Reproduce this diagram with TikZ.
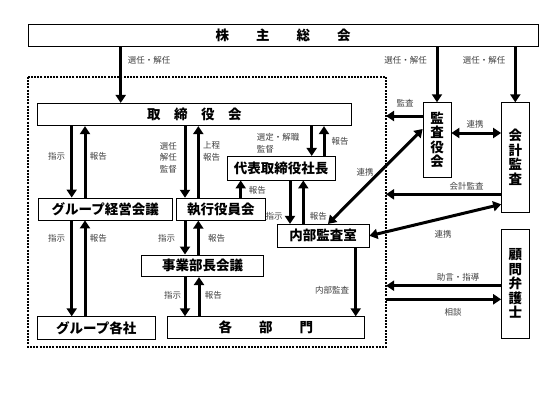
\documentclass[tikz,border=0pt]{standalone}
\usepackage{fontspec}
\setmainfont{Noto Sans CJK JP}
\usepackage{tikz}
\usetikzlibrary{arrows.meta, positioning}
\tikzstyle{box} = [rectangle, draw=black, line width=0.8pt, fill=white, inner sep=0pt, align=center, font=\bfseries\fontsize{13.5}{14.5}\selectfont]
\tikzstyle{lbl} = [inner sep=0pt, align=center, text=black!75, font=\fontsize{8.5}{12}\selectfont]
\tikzstyle{arrow} = [line width=3pt, -{Triangle[length=8pt,width=10pt]}]
\tikzstyle{twoway} = [line width=3pt, {Triangle[length=8pt,width=10pt]}-{Triangle[length=8pt,width=10pt]}]
\tikzstyle{dotline} = [line width=2.4pt, dash pattern=on 2pt off 1.2pt]
\begin{document}
\begin{tikzpicture}[x=1pt, y=-1pt]
  \useasboundingbox (0,0) rectangle (553,415);
  \draw[dotline] (28,76.7) rectangle (386,346.7);

  \node (meeting) [box, minimum width=510pt, minimum height=22.4pt] at (283,35.5) {株　　主　　総　　会};
  \node (board) [box, minimum width=314.7pt, minimum height=22.4pt] at (194.3,114.5) {取　締　役　会};
  \node (auditors) [box, minimum width=28pt, minimum height=74.3pt] at (437,139.8) {監\\査\\役\\会};
  \node (accounting) [box, minimum width=27.5pt, minimum height=109.3pt] at (515.3,157.4) {会\\計\\監\\査};
  \node (lawyer) [box, minimum width=27.5pt, minimum height=109pt] at (515.3,283.5) {顧\\問\\弁\\護\\士};
  \node (president) [box, minimum width=107.7pt, minimum height=23.7pt] at (281.2,168.2) {代表取締役社長};
  \node (groupmtg) [box, minimum width=134.3pt, minimum height=22pt] at (105.2,209) {グループ経営会議};
  \node (execs) [box, minimum width=88.3pt, minimum height=22pt] at (220.8,209.2) {執行役員会};
  \node (internal) [box, minimum width=91.7pt, minimum height=23pt] at (323.2,235.8) {内部監査室};
  \node (divmtg) [box, minimum width=121.7pt, minimum height=21.7pt] at (202.5,265.8) {事業部長会議};
  \node (groupcos) [box, minimum width=117.3pt, minimum height=22.6pt] at (96.3,328) {グループ各社};
  \node (depts) [box, minimum width=196.3pt, minimum height=21.6pt] at (265.8,327.5) {各　　部　　門};

  % free ends on the dotted line
  \coordinate (audit) at (386,116);
  \coordinate (acct) at (386,194.3);
  \coordinate (advice) at (386,285.7);
  \coordinate (consult) at (386,299.3);

  \draw[arrow] (120.7,0 |- meeting.south) -- (120.7,0 |- board.north);
  \draw[arrow] (auditors.north |- meeting.south) -- (auditors.north);
  \draw[arrow] (accounting.north |- meeting.south) -- (accounting.north);
  \node[lbl] at (149,60) {選任・解任};
  \node[lbl] at (405.5,60) {選任・解任};
  \node[lbl] at (484,60) {選任・解任};

  \draw[arrow] (71.7,0 |- board.south) -- (71.7,0 |- groupmtg.north);
  \draw[arrow] (85,0 |- groupmtg.north) -- (85,0 |- board.south);
  \node[lbl] at (56.7,156) {指示};
  \node[lbl] at (98.3,156) {報告};
  \draw[arrow] (185,0 |- board.south) -- (185,0 |- execs.north);
  \draw[arrow] (198.3,0 |- execs.north) -- (198.3,0 |- board.south);
  \node[lbl, font=\fontsize{8.5}{11.5}\selectfont] at (168.3,157.5) {選任\\解任\\監督};
  \node[lbl, font=\fontsize{8.5}{11.5}\selectfont] at (211.7,151.5) {上程\\報告};
  \draw[arrow] (311.7,0 |- board.south) -- (311.7,0 |- president.north);
  \draw[arrow] (324,0 |- president.north) -- (324,0 |- board.south);
  \node[lbl, align=left, anchor=west] at (256.7,143) {選定・解職\\監督};
  \node[lbl] at (340,141.7) {報告};
  \draw[arrow] (240.7,0 |- execs.north) -- (240.7,0 |- president.south);
  \node[lbl] at (257.3,190) {報告};
  \draw[arrow] (290,0 |- president.south) -- (290,0 |- internal.north);
  \draw[arrow] (303.3,0 |- internal.north) -- (303.3,0 |- president.south);
  \node[lbl] at (274,216.7) {指示};
  \node[lbl] at (318.3,216.7) {報告};

  \draw[arrow] (71.7,0 |- groupmtg.south) -- (71.7,0 |- groupcos.north);
  \draw[arrow] (85,0 |- groupcos.north) -- (85,0 |- groupmtg.south);
  \node[lbl] at (56.7,238.3) {指示};
  \node[lbl] at (98.3,238.3) {報告};
  \draw[arrow] (185,0 |- execs.south) -- (185,0 |- divmtg.north);
  \draw[arrow] (198.3,0 |- divmtg.north) -- (198.3,0 |- execs.south);
  \node[lbl] at (166.7,238.3) {指示};
  \node[lbl] at (216.7,238.3) {報告};
  \draw[arrow] (185,0 |- divmtg.south) -- (185,0 |- depts.north);
  \draw[arrow] (199,0 |- depts.north) -- (199,0 |- divmtg.south);
  \node[lbl] at (172.7,295) {指示};
  \node[lbl] at (213.3,295) {報告};
  \draw[arrow] (355.7,0 |- internal.south) -- (355.7,0 |- depts.north);
  \node[lbl] at (332,290.7) {内部監査};

  \draw[arrow] (auditors.west |- audit) -- (audit);
  \node[lbl] at (405,103.3) {監査};
  \draw[twoway] (auditors.east |- 0,133) -- (accounting.west |- 0,133);
  \node[lbl] at (475,124) {連携};
  \draw[twoway] (auditors.west |- 0,129) -- (328,0 |- internal.north);
  \node[lbl] at (365,172.7) {連携};
  \draw[arrow] (accounting.west |- acct) -- (acct);
  \node[lbl] at (466.7,186.7) {会計監査};
  \draw[twoway] (internal.east) -- (accounting.west |- 0,204.3);
  \node[lbl] at (443,234) {連携};
  \draw[arrow] (lawyer.west |- advice) -- (advice);
  \node[lbl] at (458,277.3) {助言・指導};
  \draw[arrow] (consult) -- (lawyer.west |- consult);
  \node[lbl] at (453,312.7) {相談};
\end{tikzpicture}
\end{document}
